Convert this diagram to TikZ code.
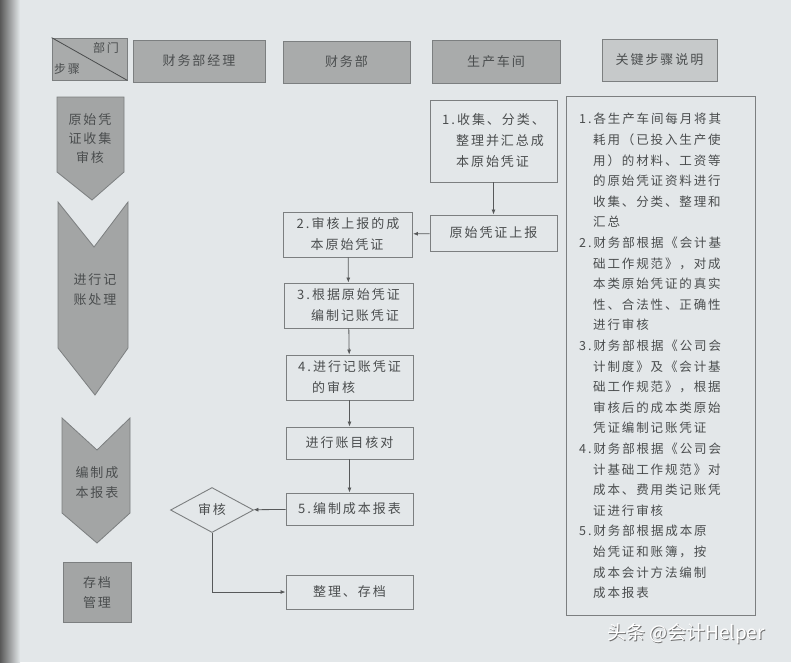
\documentclass[tikz,border=0pt]{standalone}
\usepackage{fontspec}
\setmainfont{Noto Sans CJK SC}[LetterSpace=15]
\usetikzlibrary{arrows.meta,shapes.geometric,positioning}
\definecolor{bgpaper}{HTML}{E3E7E9}
\definecolor{hdrgray}{HTML}{A9ABAB}
\definecolor{stepgray}{HTML}{A3A5A5}
\definecolor{edgegray}{HTML}{7C7F80}
\definecolor{inkgray}{HTML}{4A4D4E}
\definecolor{notegray}{HTML}{C6C9CA}
\tikzset{
  hdrbox/.style={draw=edgegray, fill=hdrgray, line width=0.8pt, text=inkgray, inner sep=0pt,
    font=\fontsize{13}{16}\selectfont},
  flowbox/.style={draw=edgegray, fill=bgpaper, line width=0.9pt, text=inkgray, inner sep=0pt,
    align=left, font=\fontsize{13}{21}\selectfont},
  stepshape/.style={draw=edgegray, fill=stepgray, line width=0.8pt},
  steplabel/.style={text=inkgray, align=center, inner sep=0pt, font=\fontsize{13}{20}\selectfont},
  flowline/.style={draw=edgegray!70!black, line width=0.8pt, -{Latex[length=5pt,width=4pt]}},
}
\newcommand{\hang}{\makebox[14pt][l]{}}
\begin{document}
\begin{tikzpicture}[x=1pt, y=-1pt]
		%%%%% START %%%%%
		\useasboundingbox (0,0) rectangle (791,662);
		\fill[bgpaper] (0,0) rectangle (791,662);
		\shade[left color=black!65, right color=bgpaper] (0,0) rectangle (20,662);
		
		% header row
		\node[hdrbox, minimum width=75pt, minimum height=42pt] (hdrcorner) at (89.5,59) {};
		\draw[edgegray!60!black, line width=0.8pt] (hdrcorner.north west) -- (hdrcorner.south east);
		\node[text=inkgray, font=\fontsize{12}{14}\selectfont, inner sep=0pt] (hdrdept) at (106,48) {部门};
		\node[text=inkgray, font=\fontsize{12}{14}\selectfont, inner sep=0pt] (hdrstep) at (67,69) {步骤};
		\node[hdrbox, minimum width=132pt, minimum height=42pt] (hdrmgr) at (199,61) {财务部经理};
		\node[hdrbox, minimum width=127pt, minimum height=42pt] (hdrfin) at (346.5,62) {财务部};
		\node[hdrbox, minimum width=128pt, minimum height=43pt] (hdrprod) at (496,61.5) {生产车间};
		\node[hdrbox, fill=notegray, minimum width=115pt, minimum height=42pt] (hdrnote) at (659.5,60) {关键步骤说明};
		
		% step column
		\draw[stepshape] (57,97) -- (124,97) -- (124,172) -- (92,200) -- (57,172) -- cycle;
		\node[steplabel, font=\fontsize{13}{19}\selectfont] (stepA) at (90,139) {原始凭\\证收集\\审核};
		\draw[stepshape] (58,202) -- (94,247) -- (128,202) -- (128,348) -- (95,395) -- (58,348) -- cycle;
		\node[steplabel] (stepB) at (95,290) {进行记\\账处理};
		\draw[stepshape] (62,418) -- (97,450) -- (130,418) -- (130,513) -- (97,543) -- (62,513) -- cycle;
		\node[steplabel] (stepC) at (97,483) {编制成\\本报表};
		\draw[stepshape] (63,562) rectangle (131,622);
		\node[steplabel] (stepD) at (97,593) {存档\\管理};
		
		% flow boxes
		\node[flowbox, minimum width=127pt, minimum height=82pt] (boxCollect) at (493.5,141) {1.\,收集、分类、\\\hang 整理并汇总成\\\hang 本原始凭证};
		\node[flowbox, minimum width=127pt, minimum height=36pt] (boxSubmit) at (493.5,233) {原始凭证上报};
		\node[flowbox, minimum width=129pt, minimum height=45pt] (boxAudit) at (348,234.5) {2.\,审核上报的成\\\hang 本原始凭证};
		\node[flowbox, minimum width=129pt, minimum height=45pt] (boxVoucher) at (348.5,305.5) {3.\,根据原始凭证\\\hang 编制记账凭证};
		\node[flowbox, minimum width=127pt, minimum height=45pt] (boxReview) at (349.5,377.5) {4.\,进行记账凭证\\\hang 的审核};
		\node[flowbox, minimum width=127pt, minimum height=32pt] (boxRecon) at (349.5,443) {进行账目核对};
		\node[flowbox, minimum width=127pt, minimum height=32pt] (boxCost) at (349.5,509) {5.\,编制成本报表};
		\node[flowbox, shape=diamond, aspect=1.8, minimum width=83pt, minimum height=45pt, align=center] (diaCheck) at (212,510) {审核};
		\node[flowbox, minimum width=127pt, minimum height=34pt] (boxArchive) at (349.5,592) {整理、存档};
		
		\draw[flowline] (boxCollect) -- (boxSubmit);
		\draw[flowline] (boxSubmit) -- (boxAudit);
		\draw[flowline] (boxAudit) -- (boxVoucher);
		\draw[flowline] (boxVoucher) -- (boxReview);
		\draw[flowline] (boxReview) -- (boxRecon);
		\draw[flowline] (boxRecon) -- (boxCost);
		\draw[flowline] (boxCost) -- (diaCheck);
		\draw[flowline] (diaCheck.south) |- (boxArchive.west);
		
		% key step notes
		\node[draw=edgegray, line width=0.9pt, minimum width=189pt, minimum height=519pt] (noteBox) at (660.5,355.5) {};
		\node[text=inkgray, align=left, inner sep=0pt, anchor=north west, font=\fontsize{12.5}{20.6}\selectfont] (noteText) at (579,113) {%
		1.\,各生产车间每月将其\\\hang 耗用（已投入生产使\\\hang 用）的材料、工资等\\\hang 的原始凭证资料进行\\\hang 收集、分类、整理和\\\hang 汇总\\
		2.\,财务部根据《会计基\\\hang 础工作规范》，对成\\\hang 本类原始凭证的真实\\\hang 性、合法性、正确性\\\hang 进行审核\\
		3.\,财务部根据《公司会\\\hang 计制度》及《会计基\\\hang 础工作规范》，根据\\\hang 审核后的成本类原始\\\hang 凭证编制记账凭证\\
		4.\,财务部根据《公司会\\\hang 计基础工作规范》对\\\hang 成本、费用类记账凭\\\hang 证进行审核\\
		5.\,财务部根据成本原\\\hang 始凭证和账簿，按\\\hang 成本会计方法编制\\\hang 成本报表};
		
		% watermark
		\node[text=black!55, inner sep=0pt, font=\fontsize{19}{22}\selectfont\addfontfeature{LetterSpace=0}] (markShadow) at (687,634.5) {头条 @会计Helper};
		\node[text=white, inner sep=0pt, font=\fontsize{19}{22}\selectfont\addfontfeature{LetterSpace=0}] (markText) at (686,633.5) {头条 @会计Helper};
		%%%%% END %%%%%
\end{tikzpicture}
\end{document}
